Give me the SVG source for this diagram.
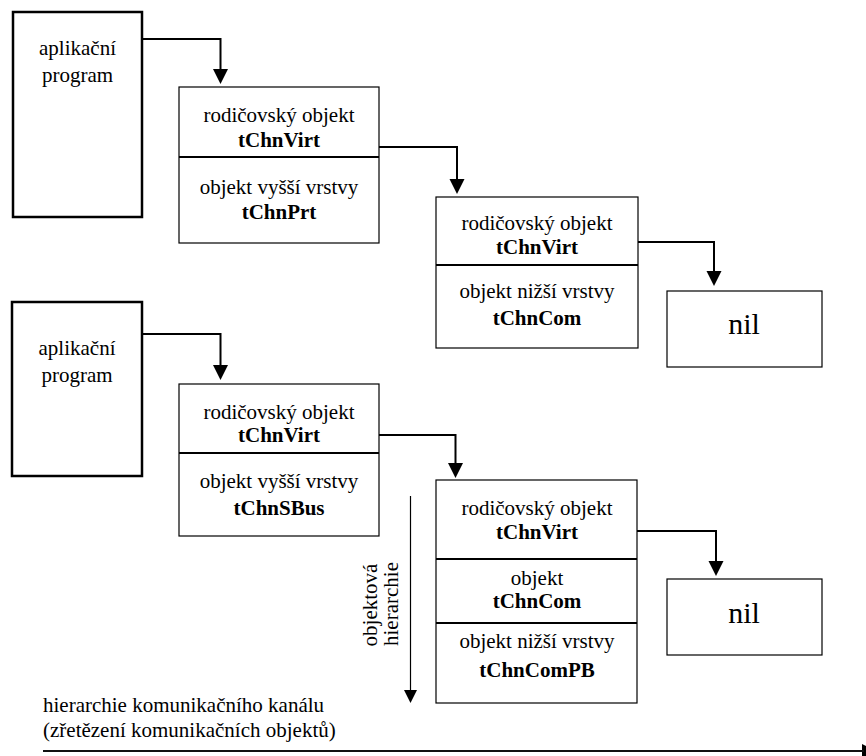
<svg xmlns="http://www.w3.org/2000/svg" width="866" height="756" viewBox="0 0 866 756">
<rect width="866" height="756" fill="#fff"/>
<g id="app1">
<rect x="13" y="12" width="129" height="205" fill="#fff" stroke="#000" stroke-width="2.5"/>
<text x="77.5" y="55" font-family="Liberation Serif, Times New Roman, serif" font-size="21" text-anchor="middle">aplikační</text>
<text x="77.5" y="82" font-family="Liberation Serif, Times New Roman, serif" font-size="21" text-anchor="middle">program</text>
</g>
<g id="objA">
<rect x="179" y="87" width="200" height="156" fill="#fff" stroke="#000" stroke-width="1.2"/>
<line x1="179" y1="157" x2="379" y2="157" stroke="#000" stroke-width="2"/>
<text x="279" y="122" font-family="Liberation Serif, Times New Roman, serif" font-size="21" text-anchor="middle">rodičovský objekt</text>
<text x="279" y="147" font-family="Liberation Serif, Times New Roman, serif" font-size="21" font-weight="bold" text-anchor="middle">tChnVirt</text>
<text x="279" y="194" font-family="Liberation Serif, Times New Roman, serif" font-size="21" text-anchor="middle">objekt vyšší vrstvy</text>
<text x="279" y="219" font-family="Liberation Serif, Times New Roman, serif" font-size="21" font-weight="bold" text-anchor="middle">tChnPrt</text>
</g>
<g id="objB">
<rect x="436" y="197" width="202" height="151" fill="#fff" stroke="#000" stroke-width="1.2"/>
<line x1="436" y1="265" x2="638" y2="265" stroke="#000" stroke-width="2"/>
<text x="537" y="230" font-family="Liberation Serif, Times New Roman, serif" font-size="21" text-anchor="middle">rodičovský objekt</text>
<text x="537" y="254" font-family="Liberation Serif, Times New Roman, serif" font-size="21" font-weight="bold" text-anchor="middle">tChnVirt</text>
<text x="537" y="298" font-family="Liberation Serif, Times New Roman, serif" font-size="21" text-anchor="middle">objekt nižší vrstvy</text>
<text x="537" y="325" font-family="Liberation Serif, Times New Roman, serif" font-size="21" font-weight="bold" text-anchor="middle">tChnCom</text>
</g>
<g id="nil1">
<rect x="667" y="291" width="155" height="76" fill="#fff" stroke="#000" stroke-width="1.2"/>
<text x="744" y="334" font-family="Liberation Serif, Times New Roman, serif" font-size="30" text-anchor="middle">nil</text>
</g>
<g id="app2">
<rect x="12" y="302" width="130" height="174" fill="#fff" stroke="#000" stroke-width="2.5"/>
<text x="77" y="355" font-family="Liberation Serif, Times New Roman, serif" font-size="21" text-anchor="middle">aplikační</text>
<text x="77" y="382" font-family="Liberation Serif, Times New Roman, serif" font-size="21" text-anchor="middle">program</text>
</g>
<g id="objC">
<rect x="179" y="384" width="200" height="152" fill="#fff" stroke="#000" stroke-width="1.2"/>
<line x1="179" y1="453" x2="379" y2="453" stroke="#000" stroke-width="2"/>
<text x="279" y="419" font-family="Liberation Serif, Times New Roman, serif" font-size="21" text-anchor="middle">rodičovský objekt</text>
<text x="279" y="442" font-family="Liberation Serif, Times New Roman, serif" font-size="21" font-weight="bold" text-anchor="middle">tChnVirt</text>
<text x="279" y="488" font-family="Liberation Serif, Times New Roman, serif" font-size="21" text-anchor="middle">objekt vyšší vrstvy</text>
<text x="279" y="515" font-family="Liberation Serif, Times New Roman, serif" font-size="21" font-weight="bold" text-anchor="middle">tChnSBus</text>
</g>
<g id="objD">
<rect x="436" y="480" width="201" height="223" fill="#fff" stroke="#000" stroke-width="1.2"/>
<line x1="436" y1="559" x2="637" y2="559" stroke="#000" stroke-width="2"/>
<line x1="436" y1="623" x2="637" y2="623" stroke="#000" stroke-width="2"/>
<text x="537" y="515" font-family="Liberation Serif, Times New Roman, serif" font-size="21" text-anchor="middle">rodičovský objekt</text>
<text x="537" y="539" font-family="Liberation Serif, Times New Roman, serif" font-size="21" font-weight="bold" text-anchor="middle">tChnVirt</text>
<text x="537" y="585" font-family="Liberation Serif, Times New Roman, serif" font-size="21" text-anchor="middle">objekt</text>
<text x="537" y="608" font-family="Liberation Serif, Times New Roman, serif" font-size="21" font-weight="bold" text-anchor="middle">tChnCom</text>
<text x="537" y="648" font-family="Liberation Serif, Times New Roman, serif" font-size="21" text-anchor="middle">objekt nižší vrstvy</text>
<text x="537" y="677" font-family="Liberation Serif, Times New Roman, serif" font-size="21" font-weight="bold" text-anchor="middle">tChnComPB</text>
</g>
<g id="nil2">
<rect x="667" y="579" width="155" height="76" fill="#fff" stroke="#000" stroke-width="1.2"/>
<text x="744" y="623" font-family="Liberation Serif, Times New Roman, serif" font-size="30" text-anchor="middle">nil</text>
</g>
<g id="connectors">
<g fill="none" stroke="#000" stroke-width="2">
<path d="M142 39 H220.5 V70"/>
<path d="M379 147 H457 V180"/>
<path d="M638 242 H714 V272"/>
<path d="M142 334 H220.5 V366"/>
<path d="M379 435 H455.5 V464"/>
<path d="M637 531 H716 V562"/>
</g>
<g fill="#000">
<polygon points="213,69 228,69 220.5,84"/>
<polygon points="449.5,179 464.5,179 457,194"/>
<polygon points="706.5,271 721.5,271 714,286"/>
<polygon points="213,365 228,365 220.5,380"/>
<polygon points="448,463 463,463 455.5,478"/>
<polygon points="708.5,561 723.5,561 716,576"/>
<polygon points="404,690 417,690 410.5,703"/>
<polygon points="862,744 862,758 876,751"/>
</g>
<line x1="410.5" y1="496" x2="410.5" y2="692" stroke="#000" stroke-width="1.2"/>
<line x1="43" y1="751" x2="864" y2="751" stroke="#111" stroke-width="2"/>
</g>
<g id="labels">
<text transform="translate(377 605) rotate(-90)" font-family="Liberation Serif, Times New Roman, serif" font-size="21" text-anchor="middle">objektová</text>
<text transform="translate(398 604) rotate(-90)" font-family="Liberation Serif, Times New Roman, serif" font-size="21" text-anchor="middle">hierarchie</text>
<text x="43" y="712" font-family="Liberation Serif, Times New Roman, serif" font-size="21">hierarchie komunikačního kanálu</text>
<text x="43" y="737" font-family="Liberation Serif, Times New Roman, serif" font-size="21">(zřetězení komunikačních objektů)</text>
</g>
</svg>
